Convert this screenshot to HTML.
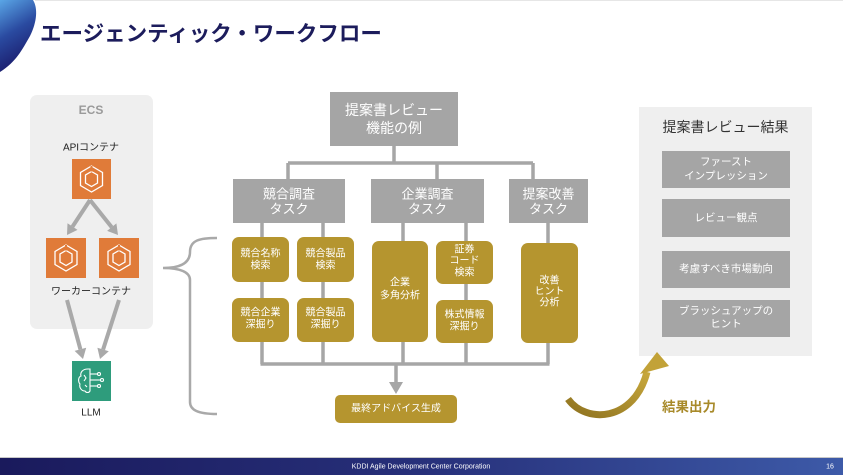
<!DOCTYPE html>
<html><head><meta charset="utf-8"><style>
html,body{margin:0;padding:0;background:#fff;}
body{width:843px;height:475px;overflow:hidden;position:relative;font-family:"Liberation Sans","Noto Sans CJK JP",sans-serif;}
svg{position:absolute;left:0;top:0;}
text{font-family:"Liberation Sans","Noto Sans CJK JP",sans-serif;}
</style></head><body>
<svg width="843" height="475" viewBox="0 0 843 475" xmlns="http://www.w3.org/2000/svg">
<defs>
<linearGradient id="blob" x1="0" y1="0" x2="0.3" y2="1">
<stop offset="0" stop-color="#5aa6e6"/><stop offset="0.5" stop-color="#2a4aa0"/><stop offset="1" stop-color="#1a1a6a"/>
</linearGradient>
<linearGradient id="foot" x1="0" y1="0" x2="1" y2="0">
<stop offset="0" stop-color="#1a1a5c"/><stop offset="0.5" stop-color="#27307a"/><stop offset="1" stop-color="#3d5aa8"/>
</linearGradient>
<linearGradient id="goldArr" x1="0" y1="1" x2="1" y2="0">
<stop offset="0" stop-color="#8f7320"/><stop offset="1" stop-color="#c8a83c"/>
</linearGradient>
<g id="ecsIcon">
<polygon points="20,7 31,13.5 31,26.5 20,33 9,26.5 9,13.5" fill="none" stroke="#fff" stroke-width="1.3"/>
<polygon points="20,12.5 26,16 26,24 20,27.5 14,24 14,16" fill="none" stroke="#fff" stroke-width="1.3"/>
<line x1="20" y1="7" x2="20" y2="12.5" stroke="#e07b39" stroke-width="2"/>
</g>
</defs>

<!-- top-left blob -->
<path d="M0,0 L33,0 C38,8 37,22 30,36 C22,50 16,62 0,72 Z" fill="url(#blob)"/>
<line x1="35" y1="0.5" x2="843" y2="0.5" stroke="#e6e6e6" stroke-width="1"/>

<!-- title -->
<text x="40" y="34" font-size="21.5" font-weight="bold" fill="#1c1c5c" dominant-baseline="central">エージェンティック・ワークフロー</text>

<!-- ECS panel -->
<rect x="30" y="95" width="123" height="234" rx="7" fill="#efefef"/>
<text x="91" y="110" font-size="12" font-weight="bold" fill="#9a9a9a" text-anchor="middle" dominant-baseline="central">ECS</text>
<text x="91" y="148" font-size="10" fill="#222" text-anchor="middle" dominant-baseline="central">APIコンテナ</text>
<rect x="72" y="159" width="39" height="40" fill="#e07b39"/>
<use href="#ecsIcon" transform="translate(71.5,159)"/>
<rect x="46" y="238" width="40" height="40" fill="#e07b39"/>
<use href="#ecsIcon" transform="translate(46,238)"/>
<rect x="99" y="238" width="40" height="40" fill="#e07b39"/>
<use href="#ecsIcon" transform="translate(99,238)"/>
<text x="91" y="292" font-size="10" fill="#222" text-anchor="middle" dominant-baseline="central">ワーカーコンテナ</text>

<!-- ECS arrows -->
<g stroke="#a9a9a9" stroke-width="4" fill="none">
<line x1="90" y1="200" x2="72.5" y2="226.6"/>
<line x1="90" y1="200" x2="111.75" y2="227.2"/>
<line x1="67" y1="300" x2="80.4" y2="349.3"/>
<line x1="119" y1="300" x2="103.1" y2="349.5"/>
</g>
<g fill="#a9a9a9">
<polygon points="67,235 77.5,229.9 67.5,223.3"/>
<polygon points="118,235 116.4,223.4 107.1,230.9"/>
<polygon points="83,359 86.2,347.8 74.6,350.9"/>
<polygon points="100,359 108.8,351.3 97.4,347.7"/>
</g>

<!-- LLM -->
<rect x="72" y="361" width="39" height="40" fill="#2e9c7c"/>
<g stroke="#fff" stroke-width="1.1" fill="none">
<path d="M88,369 C82,369 80,373 81,376 C78,377 78,382 80,384 C79,387 81,391 85,391 C86,393 89,393 90,391 L90,369 Z"/>
<line x1="90" y1="374" x2="97" y2="374"/><circle cx="99" cy="374" r="1.5"/>
<line x1="90" y1="380" x2="100" y2="380"/><circle cx="102" cy="380" r="1.5"/>
<line x1="90" y1="386" x2="97" y2="386"/><circle cx="99" cy="386" r="1.5"/>
<path d="M84,375 L86,378 L84,381 M85,385 L87,387"/>
</g>
<text x="91" y="413" font-size="10" fill="#222" text-anchor="middle" dominant-baseline="central">LLM</text>

<!-- brace -->
<path d="M217,238 C200,238 190,240 190,252 C190,263 180,268 163,268 C180,268 190,272 190,280 L190,402 C190,410 198,414 217,414" fill="none" stroke="#a9a9a9" stroke-width="2.5"/>

<!-- connectors -->
<g stroke="#a6a6a6" stroke-width="3.5" fill="none">
<line x1="394" y1="146" x2="394" y2="163"/>
<line x1="288" y1="163" x2="533" y2="163"/>
<line x1="288" y1="163" x2="288" y2="179"/>
<line x1="437" y1="163" x2="437" y2="179"/>
<line x1="533" y1="163" x2="533" y2="179"/>
<line x1="262" y1="223" x2="262" y2="364"/>
<line x1="323" y1="223" x2="323" y2="364"/>
<line x1="403" y1="223" x2="403" y2="364"/>
<line x1="466" y1="223" x2="466" y2="364"/>
<line x1="548" y1="223" x2="548" y2="364"/>
<line x1="260.5" y1="364" x2="549.5" y2="364"/>
<line x1="396" y1="364" x2="396" y2="384"/>
</g>
<polygon points="389,382 403,382 396,394" fill="#a6a6a6"/>

<!-- top box -->
<rect x="330" y="92" width="128" height="54" fill="#a5a5a5"/>
<text x="394" y="110" font-size="14" fill="#fff" text-anchor="middle" dominant-baseline="central">提案書レビュー</text>
<text x="394" y="128" font-size="14" fill="#fff" text-anchor="middle" dominant-baseline="central">機能の例</text>

<!-- task boxes -->
<rect x="233" y="179" width="112" height="44" fill="#a5a5a5"/>
<text x="289" y="194" font-size="13" fill="#fff" text-anchor="middle" dominant-baseline="central">競合調査</text>
<text x="289" y="209" font-size="13" fill="#fff" text-anchor="middle" dominant-baseline="central">タスク</text>
<rect x="371" y="179" width="113" height="44" fill="#a5a5a5"/>
<text x="427.5" y="194" font-size="13" fill="#fff" text-anchor="middle" dominant-baseline="central">企業調査</text>
<text x="427.5" y="209" font-size="13" fill="#fff" text-anchor="middle" dominant-baseline="central">タスク</text>
<rect x="509" y="179" width="79" height="44" fill="#a5a5a5"/>
<text x="548.5" y="194" font-size="13" fill="#fff" text-anchor="middle" dominant-baseline="central">提案改善</text>
<text x="548.5" y="209" font-size="13" fill="#fff" text-anchor="middle" dominant-baseline="central">タスク</text>

<!-- gold boxes -->
<g fill="#b5952f">
<rect x="232" y="237" width="57" height="45" rx="7"/>
<rect x="297" y="237" width="57" height="45" rx="7"/>
<rect x="232" y="298" width="57" height="44" rx="7"/>
<rect x="297" y="298" width="57" height="44" rx="7"/>
<rect x="372" y="241" width="56" height="101" rx="7"/>
<rect x="436" y="241" width="57" height="43" rx="7"/>
<rect x="436" y="300" width="57" height="43" rx="7"/>
<rect x="521" y="243" width="57" height="100" rx="7"/>
<rect x="335" y="395" width="122" height="28" rx="5"/>
</g>
<g font-size="10" fill="#fff" text-anchor="middle" dominant-baseline="central">
<text x="260.5" y="254">競合名称</text><text x="260.5" y="266">検索</text>
<text x="325.5" y="254">競合製品</text><text x="325.5" y="266">検索</text>
<text x="260.5" y="313">競合企業</text><text x="260.5" y="325">深掘り</text>
<text x="325.5" y="313">競合製品</text><text x="325.5" y="325">深掘り</text>
<text x="400" y="283">企業</text><text x="400" y="296">多角分析</text>
<text x="464.5" y="250">証券</text><text x="464.5" y="261">コード</text><text x="464.5" y="273">検索</text>
<text x="464.5" y="315">株式情報</text><text x="464.5" y="327">深掘り</text>
<text x="549.5" y="281">改善</text><text x="549.5" y="292">ヒント</text><text x="549.5" y="303">分析</text>
<text x="396" y="409">最終アドバイス生成</text>
</g>

<!-- right panel -->
<rect x="639" y="107" width="173" height="249" fill="#efefef"/>
<text x="725.5" y="127" font-size="14" fill="#333" text-anchor="middle" dominant-baseline="central">提案書レビュー結果</text>
<g fill="#a5a5a5">
<rect x="662" y="151" width="128" height="37"/>
<rect x="662" y="199" width="128" height="38"/>
<rect x="662" y="251" width="128" height="37"/>
<rect x="662" y="300" width="128" height="37"/>
</g>
<g font-size="10.5" fill="#fff" text-anchor="middle" dominant-baseline="central">
<text x="726" y="162">ファースト</text><text x="726" y="176">インプレッション</text>
<text x="726" y="218">レビュー観点</text>
<text x="726" y="269">考慮すべき市場動向</text>
<text x="726" y="311">ブラッシュアップの</text><text x="726" y="324">ヒント</text>
</g>

<!-- curved arrow -->
<path d="M568,399 C586,424 634,422 647,372" fill="none" stroke="url(#goldArr)" stroke-width="7"/>
<polygon points="657,352 640,374 669,366" fill="#c2a238"/>
<text x="662" y="407" font-size="13.5" font-weight="bold" fill="#a88a2a" dominant-baseline="central">結果出力</text>

<!-- footer -->
<line x1="0" y1="457.5" x2="843" y2="457.5" stroke="#c8c8c8" stroke-width="1"/>
<rect x="0" y="458" width="843" height="17" fill="url(#foot)"/>
<text x="421" y="467" font-size="7" fill="#fff" text-anchor="middle" dominant-baseline="central">KDDI Agile Development Center Corporation</text>
<text x="830" y="467" font-size="7" fill="#fff" text-anchor="middle" dominant-baseline="central">16</text>
</svg>
</body></html>
